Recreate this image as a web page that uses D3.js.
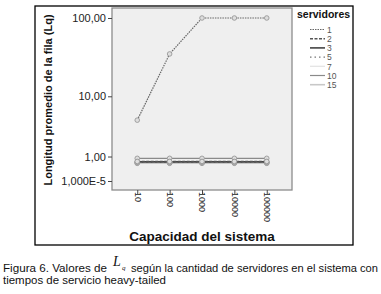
<!DOCTYPE html>
<html>
<head>
<meta charset="utf-8">
<script src="https://cdn.jsdelivr.net/npm/d3@7"></script>
<style>
  body { margin: 0; background: #fff; }
  svg { display: block; font-family: Arial, "Liberation Sans", sans-serif; }
</style>
</head>
<body>
<div id="app"></div>
<script>
const capacidad = ["10", "100", "1000", "10000", "100000"];
const servidores = ["1", "2", "3", "5", "7", "10", "15"];

// Lq per number of servers, one value per capacity
const lq1 = [4.6, 35.5, 100, 100, 100];
const lq2 = [0.74, 0.74, 0.74, 0.74, 0.74];
const lq3 = [0.72, 0.72, 0.72, 0.72, 0.72];
const lq5 = [0.7, 0.7, 0.7, 0.7, 0.7];
const lq7 = [0.67, 0.67, 0.67, 0.67, 0.67];
const lq10 = [0.9, 0.9, 0.9, 0.9, 0.9];
const lq15 = [0.65, 0.65, 0.65, 0.65, 0.65];

const yTicks = [0.00001, 1, 10, 100];
const yTickLabels = ["1,000E-5", "1,00", "10,00", "100,00"];

const series = [lq1, lq2, lq3, lq5, lq7, lq10, lq15];

const styles = [
  { color: "#666", width: 1.2, dash: "1.5,1" },
  { color: "#555", width: 1.6, dash: "3,1.5" },
  { color: "#444", width: 1.6, dash: null },
  { color: "#777", width: 1.2, dash: "1.5,3" },
  { color: "#e2e2e2", width: 1.2, dash: null },
  { color: "#8a8a8a", width: 1.2, dash: null },
  { color: "#c8c8c8", width: 1.6, dash: null },
];

const width = 381, height = 294;
const plot = { left: 112, right: 292, top: 8, bottom: 190 };

const svg = d3.select("#app").append("svg")
  .attr("width", width)
  .attr("height", height);

// outer frame
svg.append("rect")
  .attr("x", 35).attr("y", 6)
  .attr("width", 318).attr("height", 239)
  .attr("fill", "#fff")
  .attr("stroke", "#000")
  .attr("stroke-width", 1.3);

const x = d3.scalePoint()
  .domain(capacidad)
  .range([plot.left, plot.right])
  .padding(0.78);

// SPSS "safe log" axis ~ log(1 + v)
const y = d3.scaleSymlog()
  .constant(1)
  .domain([-0.29, 133])
  .range([plot.bottom, plot.top]);

svg.append("rect")
  .attr("x", plot.left).attr("y", plot.top)
  .attr("width", plot.right - plot.left)
  .attr("height", plot.bottom - plot.top)
  .attr("fill", "#efefef")
  .attr("stroke", "#8c8c8c")
  .attr("stroke-width", 1.3);

// y axis
const yAxis = svg.append("g")
  .attr("transform", `translate(${plot.left},0)`)
  .call(d3.axisLeft(y).tickValues(yTicks).tickSize(4).tickPadding(2)
    .tickFormat((d, i) => yTickLabels[i]));
yAxis.select(".domain").remove();
yAxis.selectAll("line").attr("stroke", "#444");
yAxis.selectAll("text")
  .attr("fill", "#222")
  .style("font-size", "11px")
  .style("font-family", "Arial, 'Liberation Sans', sans-serif");

// x axis
const xAxis = svg.append("g")
  .attr("transform", `translate(0,${plot.bottom})`)
  .call(d3.axisBottom(x).tickSize(4).tickPadding(2));
xAxis.select(".domain").remove();
xAxis.selectAll("line").attr("stroke", "#444");
xAxis.selectAll("text")
  .attr("fill", "#222")
  .style("font-size", "9px")
  .style("font-family", "Arial, 'Liberation Sans', sans-serif")
  .attr("text-anchor", "start")
  .attr("transform", "translate(0,2) rotate(90)")
  .attr("x", 0)
  .attr("y", 0)
  .attr("dy", "0.35em");

// axis titles
svg.append("text")
  .attr("x", 202).attr("y", 241)
  .attr("text-anchor", "middle")
  .style("font-size", "13.5px")
  .style("font-weight", "bold")
  .attr("fill", "#111")
  .text("Capacidad del sistema");

svg.append("text")
  .attr("transform", "translate(52,100) rotate(-90)")
  .attr("text-anchor", "middle")
  .style("font-size", "11px")
  .style("font-weight", "bold")
  .attr("fill", "#111")
  .text("Longitud promedio de la fila (Lq)");

// lines
const line = d3.line()
  .x((d, i) => x(capacidad[i]))
  .y(d => y(d));

const order = [4, 6, 5, 3, 2, 1, 0];
order.forEach(k => {
  const st = styles[k];
  svg.append("path")
    .datum(series[k])
    .attr("d", line)
    .attr("fill", "none")
    .attr("stroke", st.color)
    .attr("stroke-width", st.width)
    .attr("stroke-dasharray", st.dash);
});

order.forEach(k => {
  svg.append("g").selectAll("circle")
    .data(series[k])
    .join("circle")
    .attr("cx", (d, i) => x(capacidad[i]))
    .attr("cy", d => y(d))
    .attr("r", 2.3)
    .attr("fill", "#dedede")
    .attr("stroke", "#999")
    .attr("stroke-width", 0.9);
});

// legend
const legend = svg.append("g").attr("transform", "translate(297,0)");
legend.append("text")
  .attr("x", 0).attr("y", 18)
  .style("font-size", "10.5px")
  .style("font-weight", "bold")
  .attr("fill", "#111")
  .text("servidores");

const rows = legend.selectAll("g.row")
  .data(servidores)
  .join("g")
  .attr("class", "row")
  .attr("transform", (d, i) => `translate(0,${29.5 + i * 9.2})`);

rows.append("line")
  .attr("x1", 13).attr("x2", 28)
  .attr("stroke", (d, i) => styles[i].color)
  .attr("stroke-width", (d, i) => styles[i].width)
  .attr("stroke-dasharray", (d, i) => styles[i].dash);

rows.append("text")
  .attr("x", 30).attr("y", 3.2)
  .style("font-size", "8.5px")
  .attr("fill", "#555")
  .text(d => d);

// caption
const cap = svg.append("g").style("font-size", "10px").attr("fill", "#111");
cap.append("text")
  .attr("x", 3).attr("y", 272)
  .attr("textLength", 104).attr("lengthAdjust", "spacingAndGlyphs")
  .text("Figura 6. Valores de");
cap.append("text")
  .attr("x", 113).attr("y", 266)
  .style("font-family", "'Liberation Serif', 'DejaVu Serif', serif")
  .style("font-style", "italic")
  .style("font-size", "14px")
  .text("L");
cap.append("text")
  .attr("x", 122).attr("y", 270)
  .style("font-family", "'Liberation Serif', 'DejaVu Serif', serif")
  .style("font-style", "italic")
  .style("font-size", "7px")
  .text("q");
cap.append("text")
  .attr("x", 131).attr("y", 272)
  .attr("textLength", 247).attr("lengthAdjust", "spacingAndGlyphs")
  .text("según la cantidad de servidores en el sistema con");
cap.append("text")
  .attr("x", 3).attr("y", 284)
  .attr("textLength", 163).attr("lengthAdjust", "spacingAndGlyphs")
  .text("tiempos de servicio heavy-tailed");
</script>
</body>
</html>
